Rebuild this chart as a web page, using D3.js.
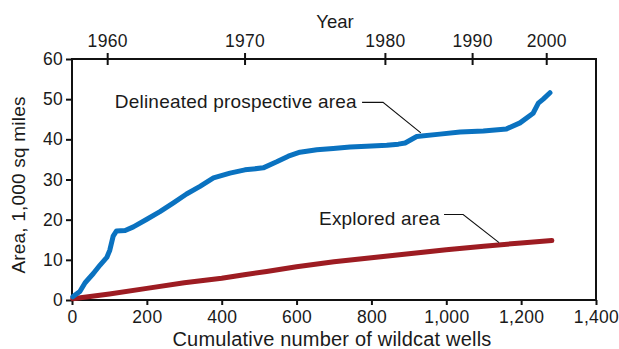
<!DOCTYPE html>
<html>
<head>
<meta charset="utf-8">
<script src="https://cdn.jsdelivr.net/npm/d3@7"></script>
<style>
  html, body { margin: 0; padding: 0; background: #fff; }
  svg { display: block; }
  text { font-family: "Liberation Sans", Arial, sans-serif; fill: #1a1a1a; }
</style>
</head>
<body>
<svg id="chart" width="619" height="349"></svg>
<script>
// Delineated prospective area vs. cumulative wildcat wells
const prospectWells = [2, 21, 35, 57, 75, 93, 101, 110, 119, 142, 164, 200, 235, 271, 306, 342, 378, 422, 462, 511, 547, 578, 609, 654, 698, 743, 787, 841, 872, 890, 921, 983, 1037, 1099, 1161, 1197, 1232, 1246, 1259, 1277];
const prospectArea  = [0.8, 2.1, 4.3, 6.6, 8.7, 10.6, 12.4, 15.9, 17.2, 17.3, 18.2, 20.1, 22.0, 24.2, 26.4, 28.3, 30.4, 31.6, 32.4, 32.9, 34.4, 35.8, 36.8, 37.4, 37.7, 38.1, 38.3, 38.5, 38.8, 39.1, 40.7, 41.3, 41.8, 42.1, 42.6, 44.1, 46.5, 49.0, 50.0, 51.6];

// Explored area vs. cumulative wildcat wells
const exploredWells = [2, 100, 200, 300, 400, 460, 520, 600, 700, 800, 900, 1000, 1100, 1200, 1282];
const exploredArea  = [0.3, 1.5, 2.9, 4.3, 5.4, 6.3, 7.1, 8.3, 9.5, 10.5, 11.5, 12.5, 13.4, 14.2, 14.8];

// Year marks on the top axis and the cumulative well count reached in each year
const yearTicks = [1960, 1970, 1980, 1990, 2000];
const yearWells = [94, 461, 836, 1069, 1267];

const wellTicks = [0, 200, 400, 600, 800, 1000, 1200, 1400];
const areaTicks = [0, 10, 20, 30, 40, 50, 60];

const svg = d3.select("#chart");
const plotLeft = 72, plotRight = 596, plotTop = 59, plotBottom = 300;

const x = d3.scaleLinear().domain([0, 1400]).range([plotLeft, plotRight]);
const y = d3.scaleLinear().domain([0, 60]).range([plotBottom, plotTop]);
const yearScale = d3.scaleLinear().domain(yearTicks).range(yearWells.map(w => x(w)));

const blue = "#0a72c0", red = "#9d1c22";

// Frame
svg.append("rect")
  .attr("x", plotLeft).attr("y", plotTop)
  .attr("width", plotRight - plotLeft).attr("height", plotBottom - plotTop)
  .attr("fill", "none").attr("stroke", "#111").attr("stroke-width", 2);

// Bottom axis
const gx = svg.append("g").attr("transform", `translate(0,${plotBottom})`)
  .call(d3.axisBottom(x).tickValues(wellTicks).tickSize(5).tickPadding(6)
    .tickFormat(d3.format(",")));
gx.select(".domain").remove();
gx.selectAll(".tick line").attr("stroke", "#111").attr("stroke-width", 2);
gx.selectAll(".tick text").attr("font-size", 17.5).attr("letter-spacing", 0.3)
  .attr("fill", "#1a1a1a");

// Left axis
const gy = svg.append("g").attr("transform", `translate(${plotLeft},0)`)
  .call(d3.axisLeft(y).tickValues(areaTicks).tickSize(6).tickPadding(3));
gy.select(".domain").remove();
gy.selectAll(".tick line").attr("stroke", "#111").attr("stroke-width", 2);
gy.selectAll(".tick text").attr("font-size", 17.5).attr("letter-spacing", 0.3)
  .attr("fill", "#1a1a1a");

// Top axis in years, ticks crossing the frame
const gt = svg.append("g").attr("transform", `translate(0,${plotTop})`)
  .call(d3.axisTop(yearScale).tickValues(yearTicks).tickSize(6).tickPadding(6)
    .tickFormat(d3.format("d")));
gt.select(".domain").remove();
gt.selectAll(".tick line").attr("stroke", "#111").attr("stroke-width", 2)
  .attr("y1", 6).attr("y2", -6);
gt.selectAll(".tick text").attr("font-size", 17.5).attr("letter-spacing", 0.3)
  .attr("fill", "#1a1a1a");

// Axis titles
svg.append("text").attr("x", 335).attr("y", 28).attr("text-anchor", "middle")
  .attr("font-size", 18.5).text("Year");
svg.append("text").attr("x", 332).attr("y", 346).attr("text-anchor", "middle")
  .attr("font-size", 20).attr("letter-spacing", 0.2)
  .text("Cumulative number of wildcat wells");
svg.append("text").attr("transform", "translate(25,185) rotate(-90)")
  .attr("text-anchor", "middle").attr("font-size", 19).attr("letter-spacing", 0.2)
  .text("Area, 1,000 sq miles");

// Series lines
const line = d3.line().x(d => x(d[0])).y(d => y(d[1]));
svg.append("path")
  .datum(exploredWells.map((w, i) => [w, exploredArea[i]]))
  .attr("d", line).attr("fill", "none").attr("stroke", red)
  .attr("stroke-width", 5).attr("stroke-linecap", "round").attr("stroke-linejoin", "round");
svg.append("path")
  .datum(prospectWells.map((w, i) => [w, prospectArea[i]]))
  .attr("d", line).attr("fill", "none").attr("stroke", blue)
  .attr("stroke-width", 5).attr("stroke-linecap", "round").attr("stroke-linejoin", "round");

// Callout labels with leader lines (wells, area)
const callouts = [
  { text: "Delineated prospective area", at: [761, 47.8], leader: [[775, 49.2], [831, 49.2], [932, 41.6]] },
  { text: "Explored area", at: [983, 18.6], leader: [[994, 21.3], [1045, 21.3], [1141, 14.3]] }
];
callouts.forEach(c => {
  svg.append("text").attr("x", x(c.at[0])).attr("y", y(c.at[1]))
    .attr("text-anchor", "end").attr("font-size", 19).attr("letter-spacing", 0.2)
    .text(c.text);
  svg.append("path")
    .attr("d", d3.line().x(d => x(d[0])).y(d => y(d[1]))(c.leader))
    .attr("fill", "none").attr("stroke", "#111").attr("stroke-width", 1.1);
});
</script>
</body>
</html>
